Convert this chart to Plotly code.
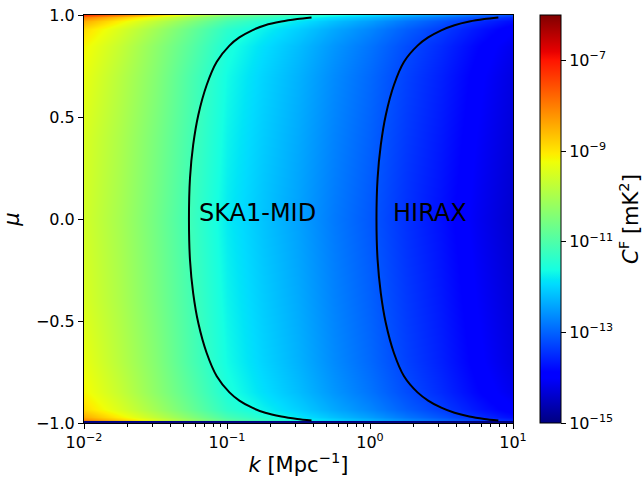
import plotly.graph_objects as go

# ---------------- data ----------------
# heat-map grid (k in Mpc^-1, mu) and log10 C^F values
k_grid = [0.01, 0.01778, 0.03162, 0.05623, 0.1, 0.1778, 0.3162, 0.5623, 1.0, 1.778, 3.162, 5.623, 10.0]
mu_grid = [-1.0, -0.99, -0.97, -0.93, -0.85, -0.7, -0.4, 0.0, 0.4, 0.7, 0.85, 0.93, 0.97, 0.99, 1.0]
logC = [
    [-7.30, -8.00, -8.75, -9.60, -10.40, -10.85, -11.25, -11.60, -11.90, -12.25, -12.55, -12.90, -13.20],
    [-7.95, -8.65, -9.35, -10.10, -10.80, -11.20, -11.55, -11.90, -12.20, -12.55, -12.85, -13.20, -13.50],
    [-8.45, -9.10, -9.75, -10.42, -11.08, -11.48, -11.83, -12.18, -12.48, -12.83, -13.13, -13.48, -13.78],
    [-8.90, -9.48, -10.08, -10.73, -11.38, -11.74, -12.04, -12.39, -12.69, -13.04, -13.34, -13.69, -13.99],
    [-9.16, -9.70, -10.30, -10.90, -11.55, -11.90, -12.20, -12.55, -12.85, -13.20, -13.50, -13.85, -14.15],
    [-9.31, -9.85, -10.40, -11.05, -11.65, -12.00, -12.30, -12.65, -12.95, -13.30, -13.60, -13.95, -14.25],
    [-9.48, -9.97, -10.52, -11.12, -11.72, -12.07, -12.37, -12.72, -13.02, -13.37, -13.67, -14.02, -14.32],
    [-9.56, -10.05, -10.60, -11.20, -11.80, -12.15, -12.45, -12.80, -13.10, -13.45, -13.75, -14.10, -14.40],
    [-9.48, -9.97, -10.52, -11.12, -11.72, -12.07, -12.37, -12.72, -13.02, -13.37, -13.67, -14.02, -14.32],
    [-9.31, -9.85, -10.40, -11.05, -11.65, -12.00, -12.30, -12.65, -12.95, -13.30, -13.60, -13.95, -14.25],
    [-9.16, -9.70, -10.30, -10.90, -11.55, -11.90, -12.20, -12.55, -12.85, -13.20, -13.50, -13.85, -14.15],
    [-8.90, -9.48, -10.08, -10.73, -11.38, -11.74, -12.04, -12.39, -12.69, -13.04, -13.34, -13.69, -13.99],
    [-8.45, -9.10, -9.75, -10.42, -11.08, -11.48, -11.83, -12.18, -12.48, -12.83, -13.13, -13.48, -13.78],
    [-7.95, -8.65, -9.35, -10.10, -10.80, -11.20, -11.55, -11.90, -12.20, -12.55, -12.85, -13.20, -13.50],
    [-7.30, -8.00, -8.75, -9.60, -10.40, -10.85, -11.25, -11.60, -11.90, -12.25, -12.55, -12.90, -13.20],
]
# thin dark row at mu = -1
edge_k = [0.01, 10.0]
edge_mu_bounds = [-1.0, -0.99]
edge_logC = [[-15.0, -15.0]]

# contour lines (mu, k)
ska_mu = [0.988, 0.98, 0.968, 0.95, 0.925, 0.89, 0.85, 0.771, 0.657, 0.51, 0.363, 0.2, 0.0,
          -0.2, -0.363, -0.51, -0.657, -0.771, -0.85, -0.89, -0.925, -0.95, -0.968, -0.98, -0.988]
ska_k = [0.39, 0.31, 0.24, 0.185, 0.15, 0.122, 0.104, 0.0848, 0.0721, 0.063, 0.058, 0.0551, 0.0542,
         0.0551, 0.058, 0.063, 0.0721, 0.0848, 0.104, 0.122, 0.15, 0.185, 0.24, 0.31, 0.39]
hirax_mu = [0.988, 0.98, 0.968, 0.95, 0.925, 0.89, 0.85, 0.771, 0.657, 0.51, 0.363, 0.2, 0.0,
            -0.2, -0.363, -0.51, -0.657, -0.771, -0.85, -0.89, -0.925, -0.95, -0.968, -0.98, -0.988]
hirax_k = [7.9, 6.3, 4.95, 3.9, 3.15, 2.55, 2.15, 1.73, 1.47, 1.29, 1.19, 1.13, 1.11,
           1.13, 1.19, 1.29, 1.47, 1.73, 2.15, 2.55, 3.15, 3.9, 4.95, 6.3, 7.9]

x_ticks = [0.01, 0.1, 1, 10]
x_ticktext = ["10<sup>\u22122</sup>", "10<sup>\u22121</sup>", "10<sup>0</sup>", "10<sup>1</sup>"]
x_minor = [m * d for d in (0.01, 0.1, 1) for m in range(2, 10)]
y_ticks = [-1.0, -0.5, 0.0, 0.5, 1.0]
y_ticktext = ["\u22121.0", "\u22120.5", "0.0", "0.5", "1.0"]
cb_ticks = [-15, -13, -11, -9, -7]
cb_ticktext = ["10<sup>\u221215</sup>", "10<sup>\u221213</sup>", "10<sup>\u221211</sup>",
               "10<sup>\u22129</sup>", "10<sup>\u22127</sup>"]

# ---------------- matplotlib "jet" colorscale ----------------
def _interp(t, pts):
    for (x0, v0), (x1, v1) in zip(pts[:-1], pts[1:]):
        if x0 <= t <= x1:
            return v0 if x1 == x0 else v0 + (v1 - v0) * (t - x0) / (x1 - x0)
    return pts[-1][1]

_R = [(0, 0), (0.35, 0), (0.66, 1), (0.89, 1), (1, 0.5)]
_G = [(0, 0), (0.125, 0), (0.375, 1), (0.64, 1), (0.91, 0), (1, 0)]
_B = [(0, 0.5), (0.11, 1), (0.34, 1), (0.65, 0), (1, 0)]
_bp = [0, 0.11, 0.125, 0.34, 0.35, 0.375, 0.64, 0.65, 0.66, 0.89, 0.91, 1]
jet = [[t, "rgb(%d,%d,%d)" % (round(255 * _interp(t, _R)), round(255 * _interp(t, _G)),
                              round(255 * _interp(t, _B)))] for t in _bp]

FONT = "DejaVu Sans"

fig = go.Figure()
fig.add_trace(go.Heatmap(
    x=k_grid, y=mu_grid, z=logC, zmin=-15, zmax=-6, colorscale=jet, zsmooth="best",
    colorbar=dict(
        x=1.063, xanchor="left", xpad=0, y=0.5, yanchor="middle", len=1, lenmode="fraction",
        ypad=0, thickness=21, outlinecolor="black", outlinewidth=1,
        tickvals=cb_ticks, ticktext=cb_ticktext, ticks="outside", ticklen=5,
        tickcolor="black", tickfont=dict(family=FONT, size=16, color="black"),
        title=dict(text="<i>C</i><sup>F</sup> [mK<sup>2</sup>]", side="right",
                   font=dict(family=FONT, size=21, color="black")),
    ),
    hoverinfo="skip",
))
fig.add_trace(go.Heatmap(
    x=edge_k, y=edge_mu_bounds, z=edge_logC, zmin=-15, zmax=-6, colorscale=jet,
    showscale=False, hoverinfo="skip",
))
for mu, kk in ((ska_mu, ska_k), (hirax_mu, hirax_k)):
    fig.add_trace(go.Scatter(x=kk, y=mu, mode="lines",
                             line=dict(color="black", width=2, shape="spline", smoothing=0.8),
                             showlegend=False, hoverinfo="skip"))

fig.add_annotation(x=-1.21, y=0.03, xref="x", yref="y", text="SKA1-MID", showarrow=False,
                   xanchor="left", yanchor="middle", font=dict(family=FONT, size=24, color="black"))
fig.add_annotation(x=0.147, y=0.03, xref="x", yref="y", text="HIRAX", showarrow=False,
                   xanchor="left", yanchor="middle", font=dict(family=FONT, size=24, color="black"))

axis_common = dict(showline=True, linecolor="black", linewidth=1, mirror=True, ticks="outside",
                   ticklen=5, tickwidth=1, tickcolor="black", showgrid=False, zeroline=False,
                   automargin=False, tickfont=dict(family=FONT, size=16, color="black"))
fig.update_xaxes(type="log", range=[-2, 1], tickvals=x_ticks, ticktext=x_ticktext,
                 minor=dict(tickvals=x_minor, ticks="outside", ticklen=3, tickcolor="black", showgrid=False),
                 title=dict(text="<i>k</i> [Mpc<sup>\u22121</sup>]", standoff=8,
                            font=dict(family=FONT, size=21, color="black")),
                 **axis_common)
fig.update_yaxes(range=[-1, 1], tickvals=y_ticks, ticktext=y_ticktext,
                 title=dict(text="<i>\u03bc</i>", standoff=10, font=dict(family=FONT, size=21, color="black")),
                 **axis_common)
fig.update_layout(width=643, height=477,
                  margin=dict(l=84, r=130, t=15, b=54, autoexpand=False),
                  paper_bgcolor="white", plot_bgcolor="white", showlegend=False,
                  font=dict(family=FONT, color="black"))
fig.write_html("out.html")
